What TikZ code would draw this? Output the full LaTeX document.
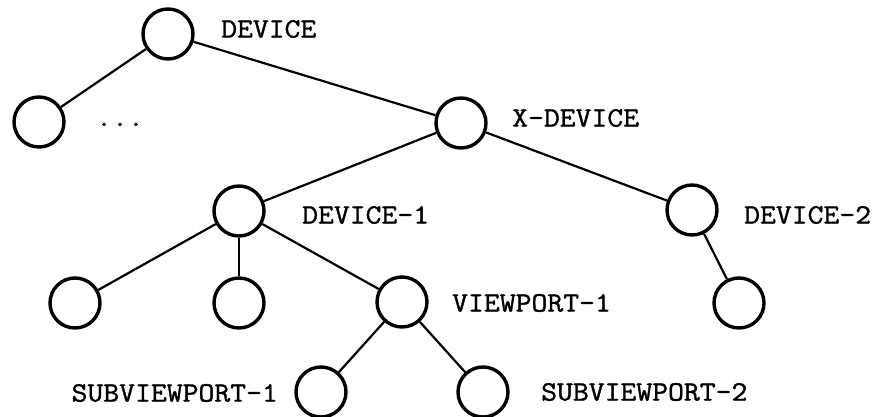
\documentclass[tikz,border=0pt]{standalone}
\usepackage{fontspec}
\newfontfamily\lblfont[FakeStretch=1.1,FakeBold=1.3]{Latin Modern Mono}
\begin{document}
\begin{tikzpicture}[x=1pt,y=-1pt,
  vertex/.style={draw,circle,minimum size=50pt,inner sep=0pt,line width=3.4pt},
  label/.style={inner sep=0pt,anchor=west,font=\lblfont\fontsize{28}{30}\selectfont},
  edge/.style={line width=2.2pt}]
\useasboundingbox (0,0) rectangle (880,417);
% tree vertices
\node[vertex] (dev)   at (168,34)  {};
\node[vertex] (other) at (39,122)  {};
\node[vertex] (xdev)  at (461,123) {};
\node[vertex] (dev1)  at (239,211) {};
\node[vertex] (dev2)  at (692,210) {};
\node[vertex] (leafa) at (75,303)  {};
\node[vertex] (leafb) at (239,303) {};
\node[vertex] (vp1)   at (402,302) {};
\node[vertex] (leafc) at (739,303) {};
\node[vertex] (svp1)  at (321,392) {};
\node[vertex] (svp2)  at (483,392) {};
% labels
\node[label] (tdev)  at (221,29)  {DEVICE};
\node[label,anchor=base west] (tdots) at (96,126) {...};
\node[label] (txdev) at (512,118) {X-DEVICE};
\node[label] (tdev1) at (302,215) {DEVICE-1};
\node[label] (tdev2) at (744,215) {DEVICE-2};
\node[label] (tvp1)  at (452,303) {VIEWPORT-1};
\node[label,anchor=east] (tsvp1) at (278,393) {SUBVIEWPORT-1};
\node[label] (tsvp2) at (541,392) {SUBVIEWPORT-2};
% connectors
\draw[edge] (dev) -- (other);
\draw[edge] (dev) -- (xdev);
\draw[edge] (xdev) -- (dev1);
\draw[edge] (xdev) -- (dev2);
\draw[edge] (dev1) -- (leafa);
\draw[edge] (dev1) -- (leafb);
\draw[edge] (dev1) -- (vp1);
\draw[edge] (dev2) -- (leafc);
\draw[edge] (vp1) -- (svp1);
\draw[edge] (vp1) -- (svp2);
\end{tikzpicture}
\end{document}
